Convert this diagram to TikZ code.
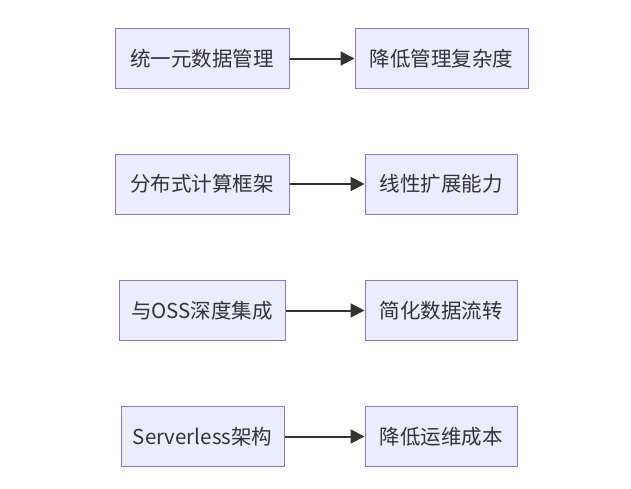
\documentclass[tikz,border=0pt]{standalone}
\usepackage{fontspec}
\setmainfont{Noto Sans CJK SC}
\usetikzlibrary{arrows.meta}
\definecolor{boxfill}{HTML}{ECECFF}
\definecolor{boxline}{HTML}{9370DB}
\definecolor{txt}{HTML}{333333}
\tikzset{
  box/.style={draw=boxline, fill=boxfill, line width=1pt, text=txt, font=\fontsize{20.5}{24}\selectfont, inner sep=0pt, minimum height=60pt},
  conn/.style={draw=txt, line width=2pt, -{Triangle[length=14pt,width=14pt]}}
}
\begin{document}
\begin{tikzpicture}[x=1pt,y=-1pt]
\useasboundingbox (0,0) rectangle (631,488);
\node[box, minimum width=174pt] (a1) at (202,58.5) {统一元数据管理};
\node[box, minimum width=173pt] (b1) at (441.5,58.5) {降低管理复杂度};
\node[box, minimum width=174pt] (a2) at (202,184) {分布式计算框架};
\node[box, minimum width=152pt] (b2) at (441,184) {线性扩展能力};
\node[box, minimum width=166pt] (a3) at (202,310.5) {与OSS深度集成};
\node[box, minimum width=152pt] (b3) at (441,310.5) {简化数据流转};
\node[box, minimum width=163pt] (a4) at (202.5,436.5) {Serverless架构};
\node[box, minimum width=152pt] (b4) at (441,436.5) {降低运维成本};
\draw[conn] (a1) -- (b1);
\draw[conn] (a2) -- (b2);
\draw[conn] (a3) -- (b3);
\draw[conn] (a4) -- (b4);
\end{tikzpicture}
\end{document}
